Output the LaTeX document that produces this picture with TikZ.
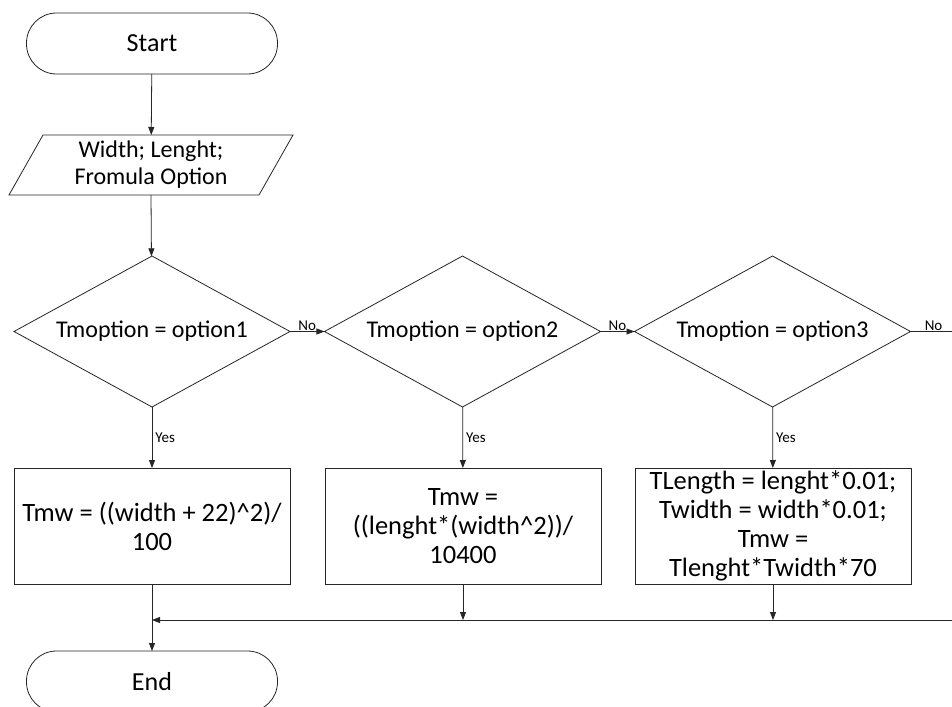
\documentclass[tikz,border=0pt]{standalone}
\usepackage{fontspec}
\setmainfont{Carlito}
\usetikzlibrary{shapes.geometric,arrows.meta}
\begin{document}
\begin{tikzpicture}[x=1pt,y=-1pt,
  line width=0.8pt, draw=black!85,
  every node/.style={font=\fontsize{24}{27}\selectfont, text=black},
  term/.style={draw, rectangle, rounded corners=30pt, minimum width=251pt, minimum height=61pt, inner sep=0pt, outer sep=0pt, font=\fontsize{26}{29}\selectfont},
  dec/.style={draw, diamond, minimum width=276pt, minimum height=151pt, inner sep=0pt, outer sep=0pt, aspect=1.83},
  proc/.style={draw, rectangle, minimum width=276pt, minimum height=116pt, inner sep=2pt, outer sep=0pt, align=center, font=\fontsize{26.5}{29}\selectfont},
  io/.style={minimum width=250pt, minimum height=60pt, inner sep=0pt, outer sep=0pt, align=center},
  lbl/.style={font=\fontsize{15}{17}\selectfont, inner sep=1pt},
  arr/.style={-{Triangle[length=8pt,width=6pt]}}
]
\clip (0,0) rectangle (952,706);
\fill[white] (0,0) rectangle (952,706);

\node[term] (start) at (152,43.5) {Start};
\node[io] (inp) at (151,165) {Width; Lenght;\\Fromula Option};
\draw (43,135) -- (293,135) -- (259,195) -- (9,195) -- cycle;

\node[dec] (d1) at (152,331.5) {Tmoption = option1};
\node[dec] (d2) at (462.5,331.5) {Tmoption = option2};
\node[dec] (d3) at (772.5,331.5) {Tmoption = option3};

\node[proc] (p1) at (152,526) {Tmw = ((width + 22)\textasciicircum 2)/\\100};
\node[proc] (p2) at (463,526) {Tmw =\\((lenght*(width\textasciicircum 2))/\\10400};
\node[proc] (p3) at (773,526) {TLength = lenght*0.01;\\Twidth = width*0.01;\\Tmw =\\Tlenght*Twidth*70};

\node[term] (end) at (152,681.5) {End};

\coordinate (j) at (152,620);
\coordinate (r1) at (990,331.5);
\coordinate (r2) at (990,620);

\draw[arr] (start) -- (inp);
\draw[arr] (inp.south) -- (d1);
\draw[arr] (d1) -- node[lbl, above]{No} (d2);
\draw[arr] (d2) -- node[lbl, above]{No} (d3);
\draw[arr] (d3.east) -- node[lbl, above, pos=0.29]{No} (r1) -- (r2) -- (j);

\draw[arr] (d1) -- node[lbl, right, xshift=2pt]{Yes} (p1);
\draw[arr] (d2) -- node[lbl, right, xshift=2pt]{Yes} (p2);
\draw[arr] (d3) -- node[lbl, right, xshift=2pt]{Yes} (p3);

\draw[arr] (p1) -- (end);
\draw[arr] (p2) -- (p2 |- j);
\draw[arr] (p3) -- (p3 |- j);
\end{tikzpicture}
\end{document}
